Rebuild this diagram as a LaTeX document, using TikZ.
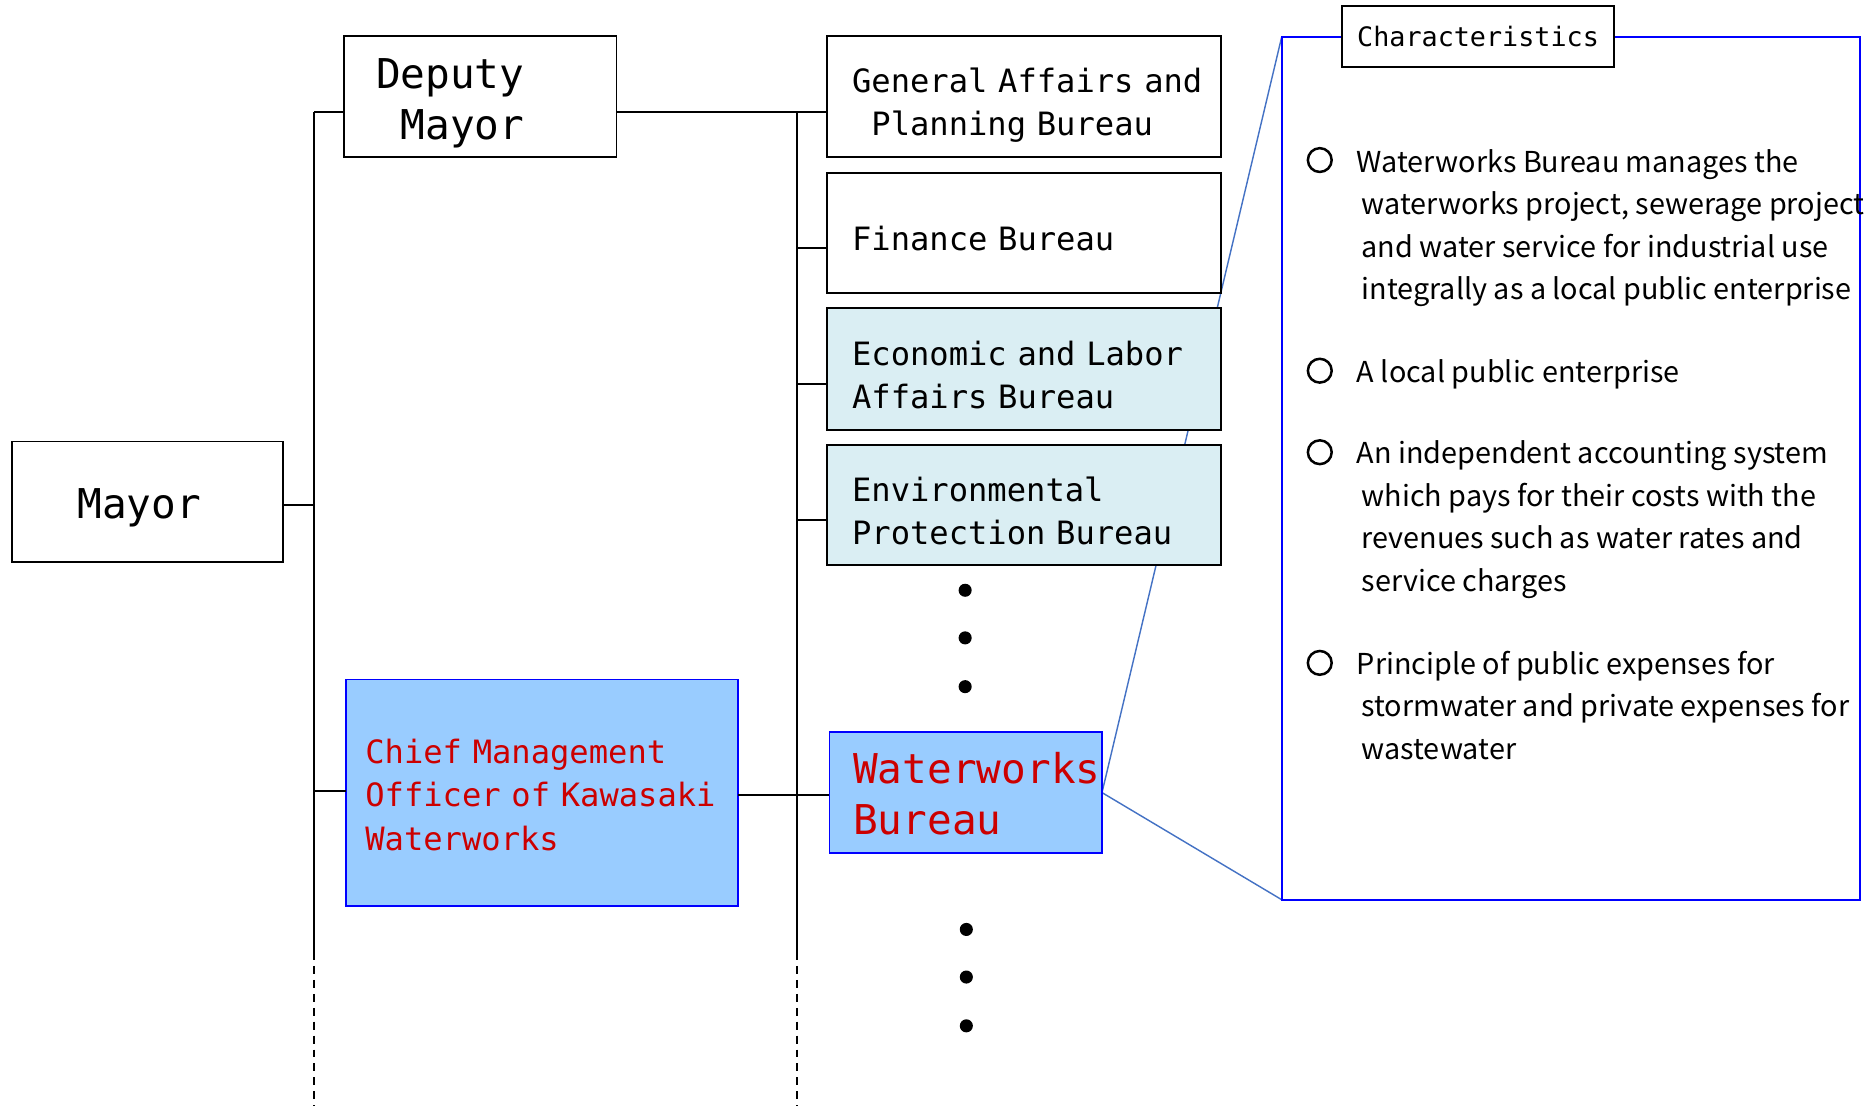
\documentclass[tikz,border=0pt]{standalone}
\usepackage{fontspec}
\newfontfamily\monof{DejaVu Sans Mono}
\newfontfamily\charf{Noto Sans CJK JP}
\usetikzlibrary{calc}
\pgfdeclarelayer{bg}
\pgfsetlayers{bg,main}
\definecolor{lightcyan}{HTML}{DAEEF3}
\definecolor{skyfill}{HTML}{99CCFF}
\definecolor{pureblue}{HTML}{0000FF}
\definecolor{textred}{HTML}{CC0000}
\definecolor{steelline}{HTML}{4472C4}
\newcommand\topst[1]{\rule{0pt}{#1pt}}
\newcommand\botst[1]{\rule[-#1pt]{0pt}{#1pt}}
\begin{document}
\begin{tikzpicture}[x=1pt,y=-1pt,
  orgbox/.style={draw=black, line width=1.6pt, fill=white, anchor=north west, align=left, inner ysep=0pt, outer sep=0pt},
  bluebox/.style={orgbox, draw=pureblue, fill=skyfill, text=textred},
  cyanbox/.style={orgbox, fill=lightcyan},
  bigmono/.style={font=\monof\fontsize{34.5}{43}\selectfont},
  midmono/.style={font=\monof\fontsize{27}{36}\selectfont},
  link/.style={line width=1.7pt, draw=black},
  trunkdash/.style={line width=1.7pt, dash pattern=on 6.7pt off 5pt},
  zoomline/.style={draw=steelline, line width=1.2pt},
  dotmark/.style={circle, fill=black, inner sep=0pt, minimum size=11pt},
  bulletring/.style={circle, draw=black, line width=2.1pt, inner sep=0pt, minimum size=20pt},
  chartext/.style={font=\charf\fontsize{24.2}{35.7}\selectfont, anchor=north west, align=left, inner sep=0pt},
]
\useasboundingbox (0,0) rectangle (1568,929);

% left column
\node[orgbox, bigmono, text width=118pt, inner xsep=55pt, minimum height=101pt] (mayor) at (10,371) {\topst{38}\mbox{Mayor}\botst{10}};
\node[orgbox, bigmono, text width=175pt, inner xsep=27pt, minimum height=102pt] (deputy) at (289,30) {\topst{39}\mbox{Deputy}\\\mbox{\hphantom{M}Mayor}\botst{10}};
\node[bluebox, font=\monof\fontsize{27}{36.5}\selectfont, text width=297pt, inner xsep=16pt, minimum height=190pt] (chief) at (291,571) {\topst{32}\mbox{Chief Management}\\\mbox{Officer of Kawasaki}\\\mbox{Waterworks}\botst{8}};

% bureaus
\node[orgbox, midmono, text width=289pt, inner xsep=21pt, minimum height=102pt] (gen) at (695,30) {\topst{38}\mbox{General Affairs and}\\\mbox{\hphantom{M}Planning Bureau}\botst{8}};
\node[orgbox, midmono, text width=289pt, inner xsep=21pt, minimum height=101pt] (fin) at (695,145) {\topst{38}\mbox{Finance Bureau}\botst{8}};
\node[cyanbox, midmono, text width=289pt, inner xsep=21pt, minimum height=102pt] (eco) at (695,259) {\topst{38}\mbox{Economic and Labor}\\\mbox{Affairs Bureau}\botst{8}};
\node[cyanbox, midmono, text width=289pt, inner xsep=21pt, minimum height=101pt] (env) at (695,374) {\topst{38}\mbox{Environmental}\\\mbox{Protection Bureau}\botst{8}};
\node[bluebox, bigmono, text width=189pt, inner xsep=20pt, minimum height=102pt] (ww) at (697,615) {\topst{38}\mbox{Waterworks}\\\mbox{Bureau}\botst{10}};

% dots
\node[dotmark] (d1) at (811,496) {};
\node[dotmark] (d2) at (811,536) {};
\node[dotmark] (d3) at (811,577) {};
\node[dotmark] (d4) at (812,781) {};
\node[dotmark] (d5) at (812,821) {};
\node[dotmark] (d6) at (812,862) {};

% characteristics panel
\node[draw=pureblue, line width=1.5pt, anchor=north west, minimum width=486pt, minimum height=725pt, inner sep=0pt, outer sep=0pt] (charbox) at (1077,31) {};
\node[orgbox, anchor=center, align=center, font=\monof\fontsize{22.5}{26}\selectfont, minimum width=228pt, minimum height=51pt, inner xsep=0pt] (charlabel) at (1242,30.5) {Characteristics};

\node[bulletring] (b1) at (1109,134.5) {};
\node[bulletring] (b2) at (1109,311.5) {};
\node[bulletring] (b3) at (1109,380) {};
\node[bulletring] (b4) at (1109,557) {};

\node[chartext] (c1) at (1140,114.5) {\topst{30}Waterworks Bureau manages the\\\hspace*{4pt}waterworks project, sewerage project\\\hspace*{4pt}and water service for industrial use\\\hspace*{4pt}integrally as a local public enterprise};
\node[chartext] (c2) at (1140,291.5) {\topst{30}A local public enterprise};
\node[chartext] (c3) at (1140,359.5) {\topst{30}An independent accounting system\\\hspace*{4pt}which pays for their costs with the\\\hspace*{4pt}revenues such as water rates and\\\hspace*{4pt}service charges};
\node[chartext] (c4) at (1140,536.5) {\topst{30}Principle of public expenses for\\\hspace*{4pt}stormwater and private expenses for\\\hspace*{4pt}wastewater};

% trunks
\coordinate (ltop) at (263.5,94);
\coordinate (lmid) at (263.5,800);
\coordinate (lbot) at (263.5,929);
\coordinate (rtop) at (670,94);
\coordinate (rmid) at (670,800);
\coordinate (rbot) at (670,929);
\draw[link] (ltop) -- (lmid);
\draw[link, trunkdash] (lmid) -- (lbot);
\draw[link] (rtop) -- (rmid);
\draw[link, trunkdash] (rmid) -- (rbot);

% connectors
\coordinate (mayc) at ([yshift=-2.5pt]mayor.east);
\draw[link] (mayc) -- (mayc -| ltop);
\draw[link] ([yshift=-13pt]deputy.west) -- (ltop);
\draw[link] ([yshift=-13pt]deputy.east) -- ([yshift=-13pt]gen.west);
\coordinate (finc) at ([yshift=-12.5pt]fin.west);
\draw[link] (finc) -- (finc -| rtop);
\coordinate (ecoc) at ([yshift=-12.5pt]eco.west);
\draw[link] (ecoc) -- (ecoc -| rtop);
\coordinate (envc) at ([yshift=-12.5pt]env.west);
\draw[link] (envc) -- (envc -| rtop);
\coordinate (chic) at ([yshift=1pt]chief.west);
\draw[link] (chic) -- (chic -| ltop);
\draw[link] ([yshift=-2pt]chief.east) -- ([yshift=-2pt]ww.west);

\begin{pgfonlayer}{bg}
\draw[zoomline] (charbox.north west) -- (ww.east) -- (charbox.south west);
\end{pgfonlayer}
\end{tikzpicture}
\end{document}
